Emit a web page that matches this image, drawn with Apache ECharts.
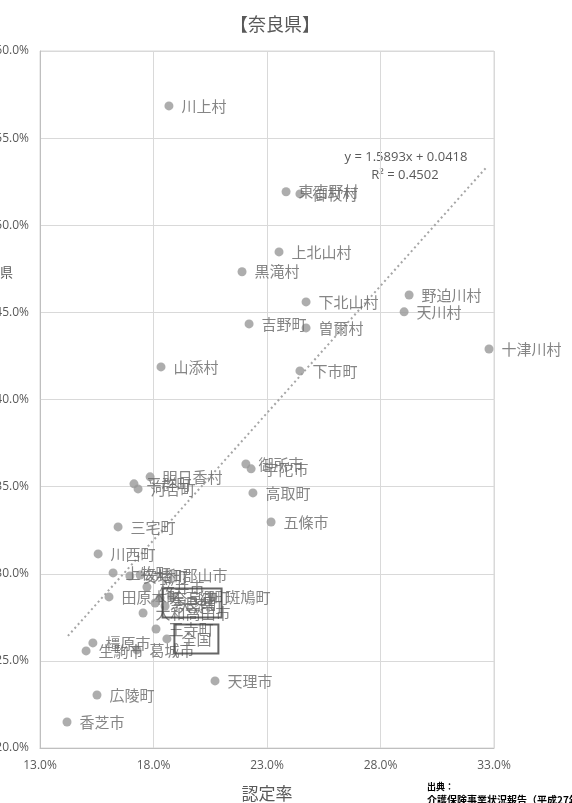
<!DOCTYPE html>
<html><head><meta charset="utf-8">
<script src="https://cdn.jsdelivr.net/npm/echarts@6/dist/echarts.min.js"></script>
<style>html,body{margin:0;padding:0;background:#fff;overflow:hidden}#c{width:572px;height:803px}</style>
</head><body><div id="c"></div>
<script>
// municipalities: x = 認定率, y = vertical value
const names = ['川上村','東吉野村','御杖村','上北山村','黒滝村','下北山村','野迫川村','天川村','十津川村','吉野町','曽爾村','山添村','下市町',
  '御所市','宇陀市','高取町','五條市','明日香村','平群町','河合町','三宅町','川西町',
  '上牧町','安堵町','大和郡山市','桜井市','田原本町','奈良市','三郷町','斑鳩町','大淀町','大和高田市','王寺町','橿原市','生駒市','葛城市',
  '天理市','広陵町','香芝市'];
const xVals = [0.1868,0.2384,0.2445,0.2353,0.2190,0.2472,0.2926,0.2904,0.3278,0.2221,0.2472,0.1833,0.2445,
  0.2207,0.2230,0.2238,0.2318,0.1785,0.1714,0.1732,0.1644,0.1556,
  0.1622,0.1696,0.1741,0.1771,0.1604,0.1829,0.1881,0.2062,0.1851,0.1754,0.1811,0.1533,0.1503,0.1727,
  0.2071,0.1551,0.1419];
const yVals = [0.5685,0.5192,0.5180,0.4847,0.4733,0.4560,0.4600,0.4503,0.4290,0.4434,0.4411,0.4187,0.4164,
  0.3630,0.3602,0.3464,0.3297,0.3556,0.3516,0.3487,0.3269,0.3114,
  0.3005,0.2987,0.2993,0.2924,0.2867,0.2861,0.2867,0.2867,0.2815,0.2775,0.2683,0.2603,0.2557,0.2563,
  0.2385,0.2304,0.2149];
// reference points (boxed labels)
const refNames = ['奈良県','全国'];
const refX = [0.1807,0.1859];
const refY = [0.2832,0.2626];
// linear trendline end points
const trendX = [0.1423,0.3265];
const trendY = [0.2643,0.5330];
const xTicks = [0.13,0.18,0.23,0.28,0.33];
const yTicks = [0.20,0.25,0.30,0.35,0.40,0.45,0.50,0.55,0.60];
const eqLines = ['y = 1.5893x + 0.0418','R² = 0.4502'];

const pts = names.map((n,i)=>({name:n,value:[xVals[i],yVals[i]]}));
const refPts = refNames.map((n,i)=>({name:n,value:[refX[i],refY[i]]}));
const trend = trendX.map((x,i)=>[x,trendY[i]]);
const pct = v => (v*100).toFixed(1)+'%';
const FONT = '"Noto Sans CJK JP","Noto Sans",sans-serif';
const chart = echarts.init(document.getElementById('c'),null,{renderer:'canvas'});
chart.setOption({
  animation:false,
  backgroundColor:'#fff',
  title:{text:'【奈良県】',left:270,top:10,textAlign:'center',
    textStyle:{fontFamily:FONT,fontSize:18,fontWeight:'normal',color:'#595959'}},
  grid:{left:40,right:78,top:51,bottom:55,containLabel:false,outerBoundsMode:'none',
    show:true,borderColor:'#d9d9d9',borderWidth:1},
  xAxis:{type:'value',min:0.13,max:0.33,name:'認定率',nameLocation:'middle',nameGap:37,
    nameTextStyle:{fontFamily:FONT,fontSize:17,color:'#595959'},
    axisLine:{show:true,lineStyle:{color:'#bfbfbf'}},axisTick:{show:false,customValues:xTicks},
    axisLabel:{customValues:xTicks,formatter:pct,margin:12,fontFamily:'"Open Sans",sans-serif',fontSize:12,color:'#595959'},
    splitLine:{show:true,lineStyle:{color:'#d9d9d9'}}},
  yAxis:{type:'value',min:0.2,max:0.6,
    axisLine:{show:true,lineStyle:{color:'#bfbfbf'}},axisTick:{show:false,customValues:yTicks},
    axisLabel:{customValues:yTicks,formatter:pct,margin:11,fontFamily:'"Open Sans",sans-serif',fontSize:12,color:'#595959'},
    splitLine:{show:true,lineStyle:{color:'#d9d9d9'}}},
  graphic:[
    {type:'text',x:406,y:157,style:{text:eqLines[0],align:'center',verticalAlign:'middle',font:'13px "Open Sans",sans-serif',fill:'#595959'}},
    {type:'text',x:405,y:175,style:{text:eqLines[1],align:'center',verticalAlign:'middle',font:'13px "Open Sans",sans-serif',fill:'#595959'}},
    {type:'text',left:0,top:266,style:{text:'県',font:'13px "Noto Sans CJK JP"',fill:'#595959'}},
    {type:'text',left:427,top:782,style:{text:'出典：',font:'bold 9px "Noto Sans CJK JP"',fill:'#000'}},
    {type:'text',left:427,top:795,style:{text:'介護保険事業状況報告（平成27年）',font:'bold 10px "Noto Sans CJK JP"',fill:'#000'}}
  ],
  series:[
    {type:'line',data:trend,symbol:'none',silent:true,z:1,
      lineStyle:{color:'#a6a6a6',width:2,type:[2,3]}},
    {type:'scatter',data:pts,symbolSize:9,z:3,itemStyle:{color:'#999999'},
      label:{show:true,position:'right',distance:8,formatter:'{b}',fontFamily:FONT,fontSize:15,color:'#666666'},
      labelLayout:{hideOverlap:false}},
    {type:'scatter',data:refPts,symbolSize:9,z:4,itemStyle:{color:'#999999'},
      label:{show:true,position:'right',distance:3,formatter:'{b}',fontFamily:FONT,fontSize:15,color:'#666666',
        borderColor:'#404040',borderWidth:2,padding:[7,7,7,7]},
      labelLayout:{hideOverlap:false}}
  ]
});
</script></body></html>
